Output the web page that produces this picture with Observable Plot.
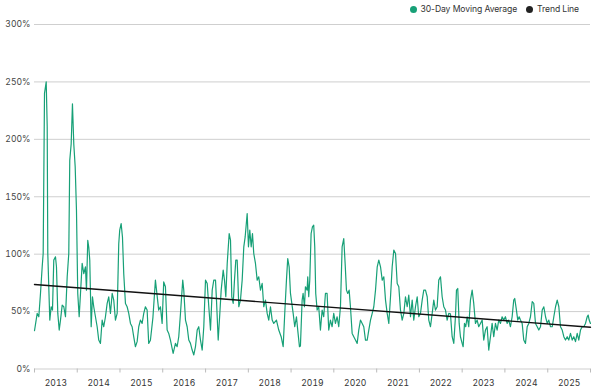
<!DOCTYPE html>
<html><head><meta charset="utf-8">
<script src="https://cdn.jsdelivr.net/npm/d3@7"></script>
<script src="https://cdn.jsdelivr.net/npm/@observablehq/plot@0.6"></script>
<style>
body{margin:0;background:#fff;font-family:Inter,"Noto Sans",sans-serif;}
#legend{height:18px;display:flex;justify-content:flex-end;align-items:center;font-size:8.6px;color:#333;padding-right:21px;gap:9px;letter-spacing:-0.1px}
#legend span.item{display:flex;align-items:center}
.sw{display:inline-block;width:7px;height:7px;border-radius:50%;margin-right:4px}
</style></head>
<body><div id="legend"></div><div id="chart"></div>
<script>
// [decimal year, 30-day moving average %]
const series = [
[2013.000,33.3],[2013.063,48.4],[2013.101,45.5],[2013.140,65.8],[2013.180,89],[2013.203,100.6],[2013.234,240],[2013.274,250],[2013.297,211],[2013.311,100.6],
[2013.334,71.6],[2013.358,42.6],[2013.390,54.2],[2013.421,51.3],[2013.451,94.8],[2013.491,97.7],[2013.514,89],[2013.545,48.4],[2013.578,33.9],[2013.608,42.6],
[2013.648,55.6],[2013.685,54.2],[2013.725,45.5],[2013.765,80.3],[2013.802,100.6],[2013.825,181.7],[2013.858,196],[2013.888,231],[2013.919,196],[2013.952,176],
[2013.982,138],[2014.012,65.8],[2014.045,45.5],[2014.076,65.8],[2014.115,92],[2014.153,83],[2014.192,89],[2014.216,68.7],[2014.246,112],[2014.270,106],
[2014.293,94.8],[2014.326,36.8],[2014.356,62.9],[2014.386,54.2],[2014.426,45.5],[2014.466,36.8],[2014.503,25.2],[2014.543,22.3],[2014.583,42.6],[2014.620,36.8],
[2014.660,45.5],[2014.700,57.1],[2014.737,62.9],[2014.777,48.4],[2014.817,65.8],[2014.854,60],[2014.894,42.6],[2014.934,48.4],[2014.971,109],[2014.994,121],
[2015.027,126.7],[2015.058,115],[2015.088,83],[2015.128,57.1],[2015.167,54.2],[2015.205,48.4],[2015.245,39.7],[2015.284,36.8],[2015.322,28],[2015.361,19.4],
[2015.401,23.8],[2015.439,36.8],[2015.478,42.6],[2015.518,39.7],[2015.556,48.4],[2015.595,54.2],[2015.635,51.3],[2015.672,22.3],[2015.712,25],[2015.771,45],
[2015.829,77.4],[2015.906,51.3],[2015.946,54.2],[2015.986,39.7],[2016.023,75.9],[2016.063,71.6],[2016.103,33.9],[2016.140,31],[2016.180,25.2],[2016.243,13.6],
[2016.297,22.3],[2016.336,19.4],[2016.374,28.1],[2016.414,48.4],[2016.467,77.4],[2016.491,68.7],[2016.531,42.6],[2016.570,36.8],[2016.608,25.2],[2016.647,22.3],
[2016.687,16.5],[2016.725,12.2],[2016.764,19.4],[2016.804,33.9],[2016.841,36.8],[2016.881,25.2],[2016.921,16.5],[2016.958,36.8],[2016.998,77.4],[2017.038,74.5],
[2017.075,54.2],[2017.115,33.9],[2017.155,68.7],[2017.192,77.4],[2017.232,77.4],[2017.255,60],[2017.295,25.2],[2017.333,48.4],[2017.365,68.7],[2017.412,86.1],
[2017.442,77.4],[2017.473,62.9],[2017.506,91.9],[2017.552,118],[2017.583,112.2],[2017.613,62.9],[2017.646,57.1],[2017.676,77.4],[2017.707,94.8],[2017.739,94.8],
[2017.777,54.2],[2017.816,60],[2017.856,77.4],[2017.894,106.4],[2017.926,115],[2017.973,135.4],[2018.003,106.4],[2018.034,120.9],[2018.067,106.4],[2018.097,118],
[2018.127,100.6],[2018.167,91.9],[2018.207,77.4],[2018.244,80.3],[2018.284,68.7],[2018.324,74.5],[2018.361,54.2],[2018.401,60],[2018.441,48.4],[2018.478,42.6],
[2018.518,54.2],[2018.558,42.6],[2018.595,39.7],[2018.658,42.6],[2018.712,33.9],[2018.768,28.1],[2018.815,19.4],[2018.852,48.4],[2018.892,77.4],[2018.922,96.2],
[2018.955,89],[2018.986,65.8],[2019.049,48.4],[2019.086,36.8],[2019.126,45.5],[2019.156,33.9],[2019.196,19.4],[2019.219,20],[2019.259,60],[2019.282,65.8],
[2019.313,54.2],[2019.336,71.6],[2019.376,68.7],[2019.390,80.3],[2019.413,62.9],[2019.437,77.4],[2019.469,118],[2019.500,123.7],[2019.530,125.2],[2019.554,106.4],
[2019.577,65.8],[2019.610,51.3],[2019.647,54.2],[2019.687,33.9],[2019.727,51.3],[2019.764,45.5],[2019.804,65.8],[2019.843,65.8],[2019.881,33.9],[2019.921,42.6],
[2019.960,36.8],[2019.998,48.4],[2020.038,39.7],[2020.077,45.5],[2020.115,36.8],[2020.155,54.2],[2020.194,106.4],[2020.232,113.6],[2020.264,91.9],[2020.295,68.7],
[2020.325,65.8],[2020.358,68.7],[2020.388,54.2],[2020.428,31],[2020.466,28.1],[2020.505,25.2],[2020.545,22.3],[2020.582,33.9],[2020.622,42.6],[2020.662,39.7],
[2020.699,36.8],[2020.739,25.2],[2020.779,25.2],[2020.816,33.9],[2020.856,42.6],[2020.896,48.4],[2020.933,54.2],[2020.973,68.7],[2021.013,89],[2021.050,94.8],
[2021.090,89],[2021.130,77.4],[2021.167,80.3],[2021.207,60],[2021.246,48.4],[2021.284,39.7],[2021.324,62.9],[2021.363,89],[2021.401,103.5],[2021.441,100.6],
[2021.480,74.5],[2021.518,71.6],[2021.557,51.3],[2021.597,42.6],[2021.635,48.4],[2021.674,62.9],[2021.714,54.2],[2021.751,64.3],[2021.791,45.5],[2021.831,60],
[2021.868,42.6],[2021.908,54.2],[2021.948,62.9],[2021.985,45.5],[2022.025,48.4],[2022.065,60],[2022.102,68.7],[2022.142,68.7],[2022.182,62.9],[2022.219,42.6],
[2022.259,36.8],[2022.299,48.4],[2022.336,60],[2022.376,51.3],[2022.415,54.2],[2022.453,77.4],[2022.493,80.3],[2022.532,62.9],[2022.570,54.2],[2022.610,51.3],
[2022.649,42.6],[2022.687,48.4],[2022.726,48],[2022.766,28.1],[2022.804,22.3],[2022.843,45.5],[2022.867,68.7],[2022.897,70.1],[2022.930,39.7],[2022.960,28.1],
[2023.000,22.3],[2023.023,19.4],[2023.054,39.7],[2023.084,36.8],[2023.117,45.5],[2023.154,36.8],[2023.194,60],[2023.234,68.7],[2023.271,57.1],[2023.311,39.7],
[2023.351,42.6],[2023.388,36.8],[2023.428,39.7],[2023.468,42.6],[2023.505,25.2],[2023.545,33.9],[2023.584,36.8],[2023.622,16.5],[2023.662,28.1],[2023.701,39.7],
[2023.739,28.1],[2023.779,39.7],[2023.818,33.9],[2023.856,42.6],[2023.896,39.7],[2023.935,45.5],[2023.973,42.6],[2024.012,45.5],[2024.052,39.7],[2024.090,42.6],
[2024.129,36.8],[2024.169,45.5],[2024.206,60],[2024.230,61.4],[2024.269,51.3],[2024.300,42.6],[2024.333,45.5],[2024.363,42.6],[2024.403,39.7],[2024.440,25.2],
[2024.480,22.3],[2024.520,36.8],[2024.557,39.7],[2024.597,45.5],[2024.637,58.6],[2024.674,57.1],[2024.714,39.7],[2024.754,36.8],[2024.791,33.9],[2024.831,36.8],
[2024.871,51.3],[2024.908,54.2],[2024.948,45.5],[2024.988,39.7],[2025.025,42.6],[2025.065,36.8],[2025.105,36.8],[2025.142,45.5],[2025.182,54.2],[2025.221,60],
[2025.259,54.2],[2025.298,36.8],[2025.338,33.9],[2025.376,28.1],[2025.415,25.2],[2025.455,28.1],[2025.492,25.2],[2025.532,31],[2025.572,25.2],[2025.609,28.1],
[2025.649,23.8],[2025.689,31],[2025.726,25.2],[2025.766,33.9],[2025.806,36.8],[2025.843,36.8],[2025.883,39.7],[2025.923,45.5],[2025.946,47],[2025.969,42.6],
[2025.999,39.7]
];
const trendYears = [2013.0, 2026.0];
const trendValues = [73.6, 36.4];
const yTicks = [0, 50, 100, 150, 200, 250, 300];
const yearLabels = [2013,2014,2015,2016,2017,2018,2019,2020,2021,2022,2023,2024,2025];
const yearBounds = [2013,2014,2015,2016,2017,2018,2019,2020,2021,2022,2023,2024,2025,2026];
const seriesName = "30-Day Moving Average";
const trendName = "Trend Line";
const green = "#17a077";

function toDate(y){
  const yr = Math.floor(y);
  const s = Date.UTC(yr,0,1), e = Date.UTC(yr+1,0,1);
  return new Date(s + (y-yr)*(e-s));
}
const data = series.map(([t,v]) => ({date: toDate(t), value: v}));
const trend = trendYears.map((t,i) => ({date: toDate(t), value: trendValues[i]}));

document.getElementById("legend").innerHTML =
  `<span class="item"><span class="sw" style="background:${green}"></span>${seriesName}</span>` +
  `<span class="item"><span class="sw" style="background:#222"></span>${trendName}</span>`;

const chart = Plot.plot({
  width: 600,
  height: 374,
  marginTop: 6,
  marginBottom: 23.5,
  marginLeft: 34,
  marginRight: 10,
  style: {fontFamily: "Inter, 'Noto Sans', sans-serif", fontSize: "8.6px", color: "#444", background: "#fff"},
  x: {type: "utc", domain: [toDate(2013), toDate(2026)], label: null},
  y: {domain: [0, 300], label: null},
  marks: [
    Plot.ruleY(yTicks, {stroke: "#cfcfcf", strokeWidth: 1, strokeOpacity: 1}),
    Plot.axisY({ticks: yTicks, tickFormat: d => d + "%", tickSize: 0, tickPadding: 4, fill: "#444", label: null}),
    Plot.axisX({ticks: yearBounds.map(toDate), tickFormat: () => "", tickSize: 4, stroke: "#bbb", label: null}),
    Plot.axisX({ticks: yearLabels.map(y => toDate(y + 0.5)), tickFormat: d3.utcFormat("%Y"), tickSize: 0, tickPadding: 11, fill: "#333", label: null}),
    Plot.line(data, {x: "date", y: "value", stroke: green, strokeWidth: 1.2}),
    Plot.line(trend, {x: "date", y: "value", stroke: "#111", strokeWidth: 1.4})
  ]
});
document.getElementById("chart").appendChild(chart);
</script>
</body></html>
